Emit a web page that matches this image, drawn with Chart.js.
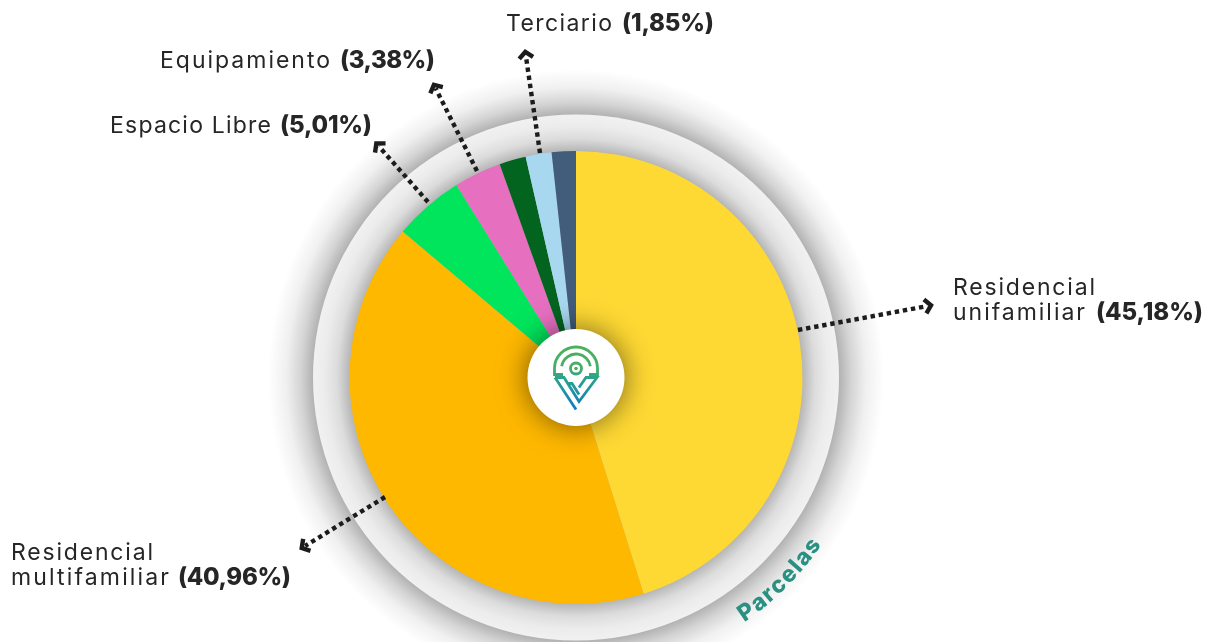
<!DOCTYPE html>
<html>
<head>
<meta charset="utf-8">
<style>
  html, body { margin: 0; padding: 0; background: #fff; }
  #wrap { position: relative; width: 1216px; height: 642px; overflow: hidden; }
</style>
<script src="https://cdn.jsdelivr.net/npm/chart.js@4"></script>
</head>
<body>
<div id="wrap"><canvas id="chart" width="1216" height="642"></canvas></div>
<script>
const categories = ['Residencial unifamiliar', 'Residencial multifamiliar', 'Espacio Libre', 'Equipamiento', 'Otros', 'Terciario', 'Sin uso'];
const shares = [45.18, 40.96, 5.01, 3.38, 1.9, 1.85, 1.72];
const sliceColors = ['#ffd933', '#ffb800', '#00e55c', '#e66fc0', '#03641f', '#a8d8f0', '#425c7c'];

const FONT = 'Inter, sans-serif';
const TEXT_COLOR = '#262626';

// callouts around the pie. each text part: string, left x, width it has to fill
const callouts = [
    {lines: [[['Terciario', 506, 106], ['(1,85%)', 622, 92]]], y: 31, from: [540, 153], to: [525, 50]},
    {lines: [[['Equipamiento', 160, 170], ['(3,38%)', 340, 95]]], y: 68, from: [477, 171], to: [433, 83]},
    {lines: [[['Espacio Libre', 110, 161], ['(5,01%)', 280, 92]]], y: 133, from: [428, 202], to: [375, 142]},
    {lines: [[['Residencial', 953, 142]], [['unifamiliar', 953, 132], ['(45,18%)', 1096, 107]]], y: 295, from: [798, 330], to: [933, 305]},
    {lines: [[['Residencial', 11, 142]], [['multifamiliar', 11, 158], ['(40,96%)', 178, 113]]], y: 560, from: [385, 497], to: [300, 549]}
];

function drawBackdrop(ctx, cx, cy) {
    // shadow outside the grey disc
    let g = ctx.createRadialGradient(cx, cy, 263, cx, cy, 308);
    g.addColorStop(0, 'rgba(0,0,0,0.3)');
    g.addColorStop(0.27, 'rgba(0,0,0,0.17)');
    g.addColorStop(0.6, 'rgba(0,0,0,0.06)');
    g.addColorStop(1, 'rgba(0,0,0,0)');
    ctx.fillStyle = g;
    ctx.beginPath();
    ctx.arc(cx, cy, 308, 0, Math.PI * 2);
    ctx.fill();

    // the disc itself, darker next to the pie
    g = ctx.createRadialGradient(cx, cy, 226, cx, cy, 263);
    g.addColorStop(0, '#b5b5b5');
    g.addColorStop(0.35, '#dcdcdc');
    g.addColorStop(0.7, '#ececec');
    g.addColorStop(1, '#f1f1f1');
    ctx.fillStyle = g;
    ctx.beginPath();
    ctx.arc(cx, cy, 263, 0, Math.PI * 2);
    ctx.fill();
}

function drawHub(ctx, cx, cy) {
    ctx.save();
    ctx.shadowColor = 'rgba(0,0,0,0.55)';
    ctx.shadowBlur = 30;
    ctx.fillStyle = '#fff';
    ctx.beginPath();
    ctx.arc(cx, cy, 48.5, 0, Math.PI * 2);
    ctx.fill();
    ctx.restore();
}

function drawLogo(ctx, cx, cy) {
    ctx.save();
    ctx.translate(cx, cy);
    ctx.lineWidth = 2.8;
    ctx.lineJoin = 'miter';

    // pin head
    const head = ctx.createLinearGradient(0, -31, 0, 0);
    head.addColorStop(0, '#4bb05c');
    head.addColorStop(0.7, '#45ae68');
    head.addColorStop(1, '#2fa584');
    ctx.strokeStyle = head;
    ctx.beginPath();
    ctx.moveTo(-13, -3);
    ctx.lineTo(-21.5, -3);
    ctx.lineTo(-21.5, -9);
    ctx.arc(0, -9, 21.5, Math.PI, 0);
    ctx.lineTo(21.5, -3);
    ctx.lineTo(13, -3);
    ctx.stroke();
    ctx.beginPath();
    ctx.arc(0, -9, 14.5, Math.PI * 1.05, Math.PI * 1.95);
    ctx.stroke();
    ctx.beginPath();
    ctx.arc(0, -9, 5.5, 0, Math.PI * 2);
    ctx.stroke();
    ctx.fillStyle = '#4bb05c';
    ctx.beginPath();
    ctx.arc(0, -9, 1.8, 0, Math.PI * 2);
    ctx.fill();

    // the V below it
    const v = ctx.createLinearGradient(0, 0, 0, 33);
    v.addColorStop(0, '#2aa58a');
    v.addColorStop(1, '#1478c4');
    ctx.strokeStyle = v;
    ctx.beginPath();
    ctx.moveTo(-21, 0);
    ctx.lineTo(0, 32);
    ctx.stroke();
    ctx.beginPath();
    ctx.moveTo(-21, 0);
    ctx.lineTo(-12, 0);
    ctx.lineTo(3, 24);
    ctx.lineTo(21, 0);
    ctx.lineTo(10, 0);
    ctx.lineTo(3, 10);
    ctx.stroke();
    ctx.beginPath();
    ctx.moveTo(-8, 6);
    ctx.lineTo(-4, 6);
    ctx.lineTo(3, 17);
    ctx.stroke();
    ctx.restore();
}

function drawArrow(ctx, from, to) {
    const a = Math.atan2(to[1] - from[1], to[0] - from[0]);
    ctx.save();
    ctx.strokeStyle = '#1c1c1c';
    ctx.lineWidth = 4.4;
    ctx.setLineDash([4.4, 3.8]);
    ctx.beginPath();
    ctx.moveTo(from[0], from[1]);
    ctx.lineTo(to[0] - Math.cos(a) * 6, to[1] - Math.sin(a) * 6);
    ctx.stroke();
    ctx.setLineDash([]);
    ctx.lineWidth = 4.4;
    ctx.lineJoin = 'miter';
    ctx.translate(to[0], to[1]);
    ctx.rotate(a);
    ctx.beginPath();
    ctx.moveTo(-8, -7);
    ctx.lineTo(-2, 0);
    ctx.lineTo(-8, 7);
    ctx.stroke();
    ctx.restore();
}

// letter spacing is worked out so the text fills the width
function fitText(ctx, text, x, y, width) {
    ctx.letterSpacing = '0px';
    const natural = ctx.measureText(text).width;
    ctx.letterSpacing = ((width - natural) / (text.length - 1)) + 'px';
    ctx.fillText(text, x, y);
    ctx.letterSpacing = '0px';
}

function drawLabel(ctx, item) {
    ctx.save();
    ctx.fillStyle = TEXT_COLOR;
    ctx.textBaseline = 'alphabetic';
    ctx.textAlign = 'left';
    item.lines.forEach((parts, i) => {
        const y = item.y + i * 25;
        parts.forEach((part, j) => {
            ctx.font = j === 0 ? '400 23px ' + FONT : '800 24px ' + FONT;
            fitText(ctx, part[0], part[1], y, part[2]);
        });
    });
    ctx.restore();
}

function drawCurvedTitle(ctx, cx, cy, text) {
    // letters run counter clockwise along a circle, feet facing outward
    const r = 297;
    ctx.save();
    ctx.fillStyle = '#2a9081';
    ctx.font = '800 23px ' + FONT;
    ctx.textAlign = 'left';
    let angle = 55.5 * Math.PI / 180;
    for (const ch of text) {
        const w = ctx.measureText(ch).width;
        ctx.save();
        ctx.translate(cx + Math.cos(angle) * r, cy + Math.sin(angle) * r);
        ctx.rotate(angle - Math.PI / 2);
        ctx.fillText(ch, 0, 0);
        ctx.restore();
        angle -= (w + 1.6) / r;
    }
    ctx.restore();
}

const decorations = {
    id: 'decorations',
    beforeDatasetsDraw(chart) {
        const arc = chart.getDatasetMeta(0).data[0];
        drawBackdrop(chart.ctx, arc.x, arc.y);
    },
    afterDatasetsDraw(chart) {
        const ctx = chart.ctx;
        const arc = chart.getDatasetMeta(0).data[0];
        drawHub(ctx, arc.x, arc.y);
        drawLogo(ctx, arc.x, arc.y);
        callouts.forEach(item => {
            drawArrow(ctx, item.from, item.to);
            drawLabel(ctx, item);
        });
        drawCurvedTitle(ctx, arc.x, arc.y, 'Parcelas');
    }
};

new Chart(document.getElementById('chart').getContext('2d'), {
    type: 'pie',
    data: {
        labels: categories,
        datasets: [{
            data: shares,
            backgroundColor: sliceColors,
            borderWidth: 0
        }]
    },
    options: {
        responsive: false,
        animation: false,
        layout: {padding: {left: 349, right: 413, top: 151, bottom: 38}},
        plugins: {legend: {display: false}, tooltip: {enabled: false}}
    },
    plugins: [decorations]
});
</script>
</body>
</html>
